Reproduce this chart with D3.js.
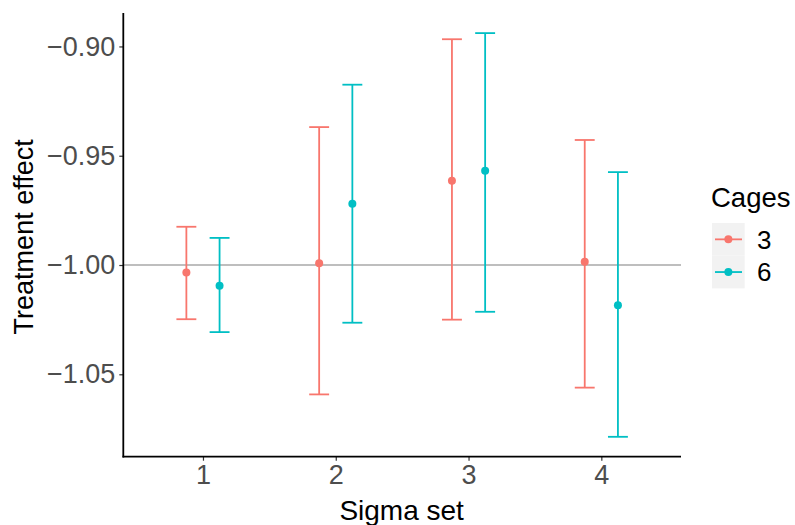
<!DOCTYPE html>
<html><head><meta charset="utf-8">
<script src="https://cdn.jsdelivr.net/npm/d3@7"></script>
<style>body{margin:0;background:#fff}svg{display:block;font-family:"Liberation Sans",Arial,sans-serif}</style>
</head><body><svg id="c" width="795" height="525"></svg>
<script>
const sigmaSets = [1, 2, 3, 4];
const cages = ["3", "6"];
const est3 = [-1.0034, -0.9992, -0.9614, -0.9985];
const lo3  = [-1.0248, -1.0592, -1.0250, -1.0561];
const hi3  = [-0.9825, -0.9369, -0.8967, -0.9428];
const est6 = [-1.0095, -0.9720, -0.9569, -1.0184];
const lo6  = [-1.0307, -1.0264, -1.0214, -1.0786];
const hi6  = [-0.9876, -0.9175, -0.8939, -0.9575];
const yTicks = [-0.90, -0.95, -1.00, -1.05];
const refLine = -1.00;
const colors = ["#F8766D", "#00BFC4"];

const series = [
  {cage: cages[0], est: est3, lo: lo3, hi: hi3},
  {cage: cages[1], est: est6, lo: lo6, hi: hi6}
];
const dodge = [-0.125, 0.125];
const capHalf = 0.075;

const svg = d3.select("#c");
const L = 123.3, R = 681, T = 13, B = 456.7;
const x = d3.scaleLinear().domain([0.4, 4.6]).range([L, R]);
const y = d3.scaleLinear().domain([-1.0877, -0.8847]).range([B, T]);

svg.append("line").attr("x1", L).attr("x2", R)
  .attr("y1", y(refLine)).attr("y2", y(refLine))
  .attr("stroke", "#bebebe").attr("stroke-width", 1.8);

series.forEach((s, si) => {
  const g = svg.append("g").attr("stroke", colors[si]).attr("fill", colors[si]);
  sigmaSets.forEach((k, i) => {
    const cx = x(k + dodge[si]);
    g.append("line").attr("x1", cx).attr("x2", cx).attr("y1", y(s.lo[i])).attr("y2", y(s.hi[i])).attr("stroke-width", 1.8);
    [s.lo[i], s.hi[i]].forEach(v => {
      g.append("line").attr("x1", x(k + dodge[si] - capHalf)).attr("x2", x(k + dodge[si] + capHalf))
        .attr("y1", y(v)).attr("y2", y(v)).attr("stroke-width", 1.8);
    });
    g.append("circle").attr("cx", cx).attr("cy", y(s.est[i])).attr("r", 4).attr("stroke", "none");
  });
});

const xAxis = svg.append("g").attr("transform", `translate(0,${B})`)
  .call(d3.axisBottom(x).tickValues(sigmaSets).tickSize(4).tickPadding(4).tickFormat(d3.format("d")));
const yAxis = svg.append("g").attr("transform", `translate(${L},0)`)
  .call(d3.axisLeft(y).tickValues(yTicks).tickSize(4).tickPadding(4).tickFormat(d => d3.format(".2f")(d).replace("-", "\u2212")));
[xAxis, yAxis].forEach(a => {
  a.select(".domain").remove();
  a.selectAll(".tick line").attr("stroke", "#333333").attr("stroke-width", 1.2);
  a.selectAll(".tick text").attr("fill", "#4d4d4d").attr("font-size", 27).attr("font-family", "Liberation Sans, Arial, sans-serif");
});
svg.append("line").attr("x1", L).attr("x2", L).attr("y1", T).attr("y2", B + 0.8).attr("stroke", "#000").attr("stroke-width", 1.8);
svg.append("line").attr("x1", L - 0.8).attr("x2", R).attr("y1", B).attr("y2", B).attr("stroke", "#000").attr("stroke-width", 1.8);

svg.append("text").attr("x", (L + R) / 2 - 0.5).attr("y", 520).attr("text-anchor", "middle")
  .attr("font-size", 28).attr("fill", "#000").text("Sigma set");
svg.append("text").attr("transform", `translate(33,${(T + B) / 2 + 2}) rotate(-90)`).attr("text-anchor", "middle")
  .attr("font-size", 27).attr("fill", "#000").text("Treatment effect");

const lg = svg.append("g");
lg.append("text").attr("x", 711).attr("y", 207).attr("font-size", 27.5).attr("fill", "#000").text("Cages");
cages.forEach((c, i) => {
  const ky = 223 + i * 32.7;
  lg.append("rect").attr("x", 712).attr("y", ky).attr("width", 32.7).attr("height", 32.7).attr("fill", "#f2f2f2");
  lg.append("line").attr("x1", 715).attr("x2", 742).attr("y1", ky + 16.35).attr("y2", ky + 16.35)
    .attr("stroke", colors[i]).attr("stroke-width", 1.8);
  lg.append("circle").attr("cx", 728.35).attr("cy", ky + 16.35).attr("r", 4).attr("fill", colors[i]);
  lg.append("text").attr("x", 757).attr("y", ky + 16.35).attr("dy", "0.36em").attr("font-size", 26).attr("fill", "#000").text(c);
});
</script></body></html>
